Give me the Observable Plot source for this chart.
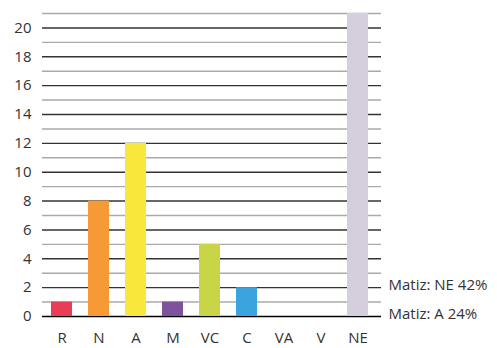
<!DOCTYPE html>
<html>
<head>
<meta charset="utf-8">
<script src="https://cdn.jsdelivr.net/npm/d3@7"></script>
<script src="https://cdn.jsdelivr.net/npm/@observablehq/plot@0.6"></script>
<style>
  html, body { margin: 0; padding: 0; background: #fff; }
  svg { display: block; }
</style>
</head>
<body>
<div id="chart"></div>
<script>
const categories = ["R", "N", "A", "M", "VC", "C", "VA", "V", "NE"];
const values = [1, 8, 12, 1, 5, 2, 0, 0, 21];
const colors = ["#e83d57", "#f59a35", "#f9e73c", "#7f529d", "#c7d546", "#3ba4de", "#ffffff", "#ffffff", "#d5cfdd"];
const yTicks = [0, 2, 4, 6, 8, 10, 12, 14, 16, 18, 20];
const gridValues = d3.range(0, 22);
const rightValues = [2, 0];
const rightTexts = ["Matiz: NE 42%", "Matiz: A 24%"];

const data = categories.map((c, i) => ({cat: c, value: values[i], color: colors[i]}));
const rightLabels = rightValues.map((v, i) => ({value: v, label: rightTexts[i]}));

const chart = Plot.plot({
  width: 497,
  height: 348,
  marginLeft: 42,
  marginRight: 116,
  marginTop: 13,
  marginBottom: 32,
  style: {fontFamily: "'Open Sans', sans-serif", fontSize: "15px", color: "#333"},
  x: {domain: categories, range: [43, 376], paddingInner: 0.432, paddingOuter: 0.216, label: null},
  y: {domain: [0, 21], label: null},
  marks: [
    Plot.ruleY(gridValues, {
      stroke: d => d === 0 ? "#000" : (d % 2 === 0 ? "#333" : "#aaa"),
      strokeWidth: 1.4
    }),
    Plot.barY(data, {x: "cat", y: "value", fill: "color"}),
    Plot.text(rightLabels, {
      y: "value",
      text: "label",
      frameAnchor: "right",
      textAnchor: "start",
      dx: 7,
      dy: -2.5,
      fontSize: 15,
      fill: "#333"
    }),
    Plot.axisX({tickSize: 0, tickPadding: 16, fontSize: 15, label: null}),
    Plot.axisY({ticks: yTicks, tickSize: 0, tickPadding: 11, fontSize: 15, label: null})
  ]
});
document.getElementById("chart").appendChild(chart);
</script>
</body>
</html>
